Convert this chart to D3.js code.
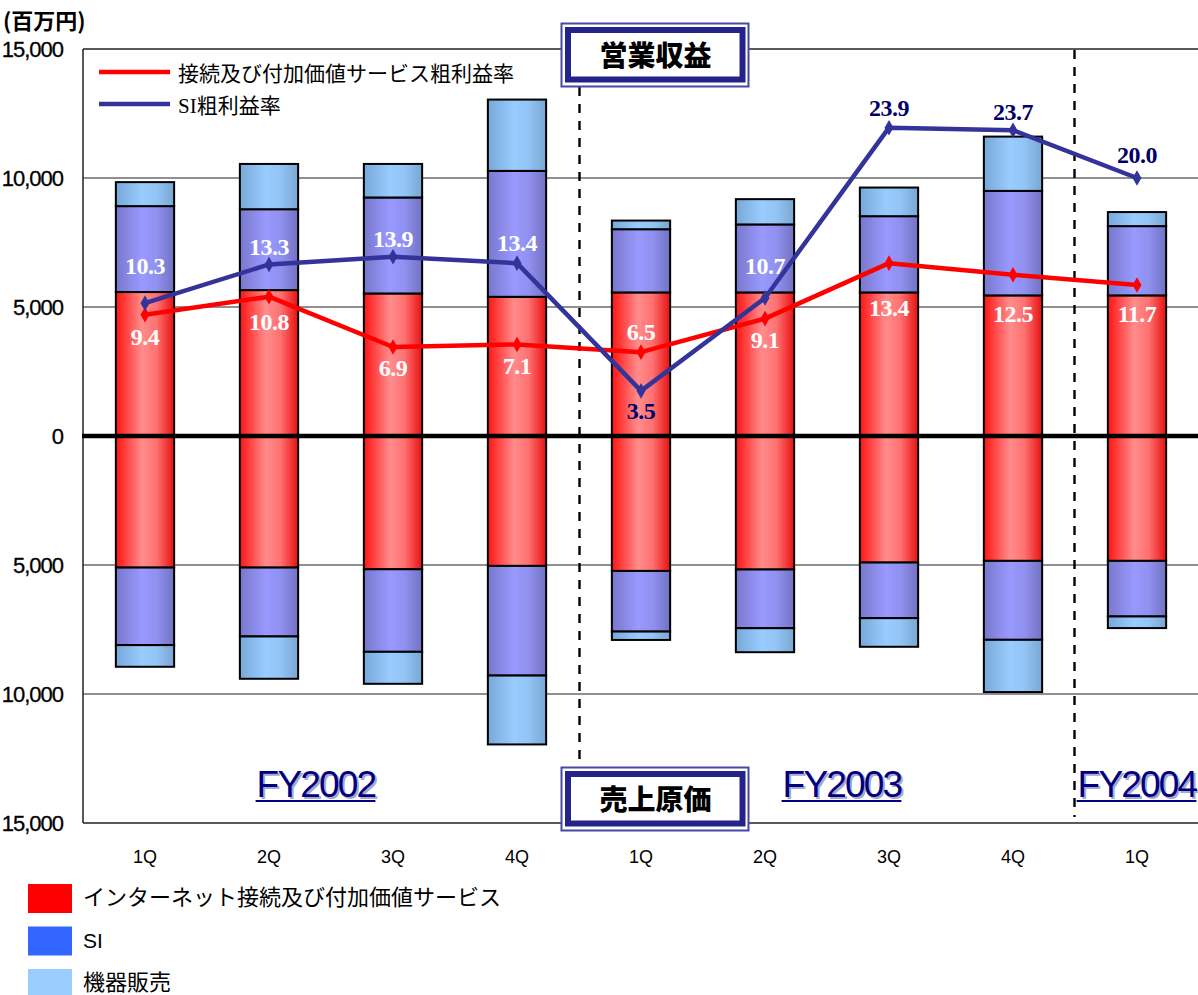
<!DOCTYPE html>
<html>
<head>
<meta charset="utf-8">
<script src="https://cdn.jsdelivr.net/npm/d3@7"></script>
<style>
  body { margin: 0; background: #fff; }
  svg { display: block; }
</style>
</head>
<body>
<svg id="chart" width="1198" height="995"></svg>
<script>
// ---- data (百万円, %) ----
const quarters = ["1Q", "2Q", "3Q", "4Q", "1Q", "2Q", "3Q", "4Q", "1Q"];
const fiscalYears = ["FY2002", "FY2003", "FY2004"];

// 営業収益 (revenue) by segment
const internetRevenue = [5580, 5655, 5525, 5395, 5565, 5565, 5565, 5450, 5450];
const siRevenue       = [3330, 3135, 3720, 4880, 2450, 2635, 2955, 4050, 2685];
const equipRevenue    = [930, 1755, 1300, 2765, 335, 980, 1110, 2105, 545];

// 売上原価 (cost of sales) by segment
const internetCost = [5100, 5100, 5165, 5035, 5230, 5175, 4905, 4840, 4840];
const siCost       = [3005, 2670, 3200, 4250, 2350, 2275, 2155, 3060, 2155];
const equipCost    = [840, 1640, 1240, 2670, 325, 930, 1110, 2025, 450];

// gross margin rates (%)
const connMarginRate = [9.4, 10.8, 6.9, 7.1, 6.5, 9.1, 13.4, 12.5, 11.7];
const siMarginRate   = [10.3, 13.3, 13.9, 13.4, 3.5, 10.7, 23.9, 23.7, 20.0];

const yTicks = [15000, 10000, 5000, 0, -5000, -10000, -15000];

// ---- layout ----
const W = 1198, H = 995;
const plot = { left: 83, right: 1199, top: 49, bottom: 823 };

const svg = d3.select("#chart");
const idx = quarters.map((_, i) => i);

const x = d3.scaleBand().domain(idx).range([plot.left, plot.right])
  .paddingInner(0.53).paddingOuter(0.265);
const cx = i => x(i) + x.bandwidth() / 2;
const y = d3.scaleLinear().domain([-15000, 15000]).range([plot.bottom, plot.top]);
const yRate = d3.scaleLinear().domain([-30, 30]).range([plot.bottom, plot.top]);

// ---- gradients for the bar shading ----
const defs = svg.append("defs");
const segStyles = {
  internet: ["#ff1414", "#ff8c8c", "#ff7070", "#e81010"],
  si:       ["#7878cc", "#9999ff", "#9090f0", "#7272c2"],
  equip:    ["#78a8d8", "#99ccff", "#92c4f4", "#7aa6d2"]
};
Object.entries(segStyles).forEach(([k, c]) => {
  const g = defs.append("linearGradient").attr("id", "grad-" + k)
    .attr("x1", "0%").attr("x2", "100%").attr("y1", "0%").attr("y2", "0%");
  g.append("stop").attr("offset", "0%").attr("stop-color", c[0]);
  g.append("stop").attr("offset", "45%").attr("stop-color", c[1]);
  g.append("stop").attr("offset", "70%").attr("stop-color", c[2]);
  g.append("stop").attr("offset", "100%").attr("stop-color", c[3]);
});

// ---- grid + frame ----
svg.append("g").selectAll("line").data([10000, 5000, -5000, -10000]).join("line")
  .attr("x1", plot.left).attr("x2", W)
  .attr("y1", d => y(d)).attr("y2", d => y(d))
  .attr("stroke", "#222").attr("stroke-width", 1.2);
svg.append("line").attr("x1", plot.left).attr("x2", W)
  .attr("y1", y(15000)).attr("y2", y(15000)).attr("stroke", "#222").attr("stroke-width", 1.5);
svg.append("line").attr("x1", plot.left).attr("x2", W)
  .attr("y1", y(-15000)).attr("y2", y(-15000)).attr("stroke", "#222").attr("stroke-width", 1.5);
svg.append("line").attr("x1", plot.left).attr("x2", plot.left)
  .attr("y1", y(15000)).attr("y2", y(-15000)).attr("stroke", "#222").attr("stroke-width", 1.5);

// y tick labels (absolute values)
svg.append("g").selectAll("text").data(yTicks).join("text")
  .attr("x", 63).attr("y", d => y(d) + 8)
  .attr("text-anchor", "end")
  .attr("font-family", "'Liberation Sans', Arial, sans-serif")
  .attr("font-size", 22).attr("letter-spacing", -1)
  .attr("stroke", "#000").attr("stroke-width", 0.3)
  .attr("fill", "#000")
  .text(d => d3.format(",")(Math.abs(d)));

svg.append("text").attr("x", 3).attr("y", 29)
  .attr("font-family", "'Noto Sans CJK JP', sans-serif")
  .attr("font-weight", "bold").attr("font-size", 22)
  .text("(百万円)");

// ---- period dividers ----
svg.append("line").attr("x1", 579.5).attr("x2", 579.5).attr("y1", 87).attr("y2", 767)
  .attr("stroke", "#000").attr("stroke-width", 2.4).attr("stroke-dasharray", "9,8");
svg.append("line").attr("x1", 1074.5).attr("x2", 1074.5).attr("y1", 50).attr("y2", 817)
  .attr("stroke", "#000").attr("stroke-width", 2.4).attr("stroke-dasharray", "9,8");

// ---- stacked bars ----
const segKeys = ["internet", "si", "equip"];
const revRows = idx.map(i => ({ i, internet: internetRevenue[i], si: siRevenue[i], equip: equipRevenue[i] }));
const costRows = idx.map(i => ({ i, internet: -internetCost[i], si: -siCost[i], equip: -equipCost[i] }));
const stack = d3.stack().keys(segKeys).offset(d3.stackOffsetDiverging);

[revRows, costRows].forEach(rows => {
  const series = stack(rows);
  svg.append("g").selectAll("g").data(series).join("g")
    .attr("fill", s => `url(#grad-${s.key})`)
    .selectAll("rect").data(s => s).join("rect")
    .attr("x", d => x(d.data.i))
    .attr("width", x.bandwidth())
    .attr("y", d => y(Math.max(d[0], d[1])))
    .attr("height", d => Math.abs(y(d[0]) - y(d[1])))
    .attr("stroke", "#000").attr("stroke-width", 2);
});

// zero baseline
svg.append("line").attr("x1", plot.left - 1).attr("x2", W)
  .attr("y1", y(0)).attr("y2", y(0)).attr("stroke", "#000").attr("stroke-width", 4.5);

// ---- margin-rate lines ----
const diamond = d3.symbol().type(d3.symbolDiamond).size(70);
const lineGen = d3.line().x((d, i) => cx(i)).y(d => yRate(d));

function drawRateLine(values, color) {
  svg.append("path").datum(values)
    .attr("d", lineGen).attr("fill", "none")
    .attr("stroke", color).attr("stroke-width", 4.5).attr("stroke-linejoin", "round");
  svg.append("g").selectAll("path").data(values).join("path")
    .attr("d", diamond)
    .attr("transform", (d, i) => `translate(${cx(i)},${yRate(d)})`)
    .attr("fill", color);
}
drawRateLine(connMarginRate, "#ff0000");
drawRateLine(siMarginRate, "#333399");

// value labels: vertical offset from the point and fill colour
const connLabelDy = [22, 25, 21, 22, -20, 21.5, 45, 39, 29];
const siLabelDy = [-37, -17, -18, -20, 20, -32, -20, -18, -23];
const siLabelFill = ["#fff", "#fff", "#fff", "#fff", "#000066", "#fff", "#000066", "#000066", "#000066"];

function drawRateLabels(values, dys, fills) {
  svg.append("g").selectAll("text").data(values).join("text")
    .attr("x", (d, i) => cx(i))
    .attr("y", (d, i) => yRate(d) + dys[i] + 8)
    .attr("text-anchor", "middle")
    .attr("font-family", "'Liberation Serif', 'Times New Roman', serif")
    .attr("font-weight", "bold").attr("font-size", 24)
    .attr("letter-spacing", -0.5)
    .attr("fill", (d, i) => fills[i])
    .text(d => d.toFixed(1));
}
drawRateLabels(connMarginRate, connLabelDy, idx.map(() => "#fff"));
drawRateLabels(siMarginRate, siLabelDy, siLabelFill);

// ---- line legend (inside plot) ----
const lineLegend = [
  { label: "接続及び付加価値サービス粗利益率", color: "#ff0000", y: 72 },
  { label: "SI粗利益率", color: "#333399", y: 104 }
];
lineLegend.forEach(d => {
  svg.append("line").attr("x1", 99).attr("x2", 170).attr("y1", d.y).attr("y2", d.y)
    .attr("stroke", d.color).attr("stroke-width", 4.5);
  const t = svg.append("text").attr("x", 178).attr("y", d.y + 9)
    .attr("font-family", "'Noto Sans CJK JP', sans-serif").attr("font-size", 21).attr("fill", "#000");
  if (d.label.startsWith("SI")) {
    t.append("tspan").attr("font-family", "'Liberation Serif', serif").text("SI");
    t.append("tspan").text(d.label.slice(2));
  } else {
    t.text(d.label);
  }
});

// ---- section boxes ----
function sectionBox(label, top) {
  const g = svg.append("g");
  g.append("rect").attr("x", 561.5).attr("y", top + 0.5).attr("width", 187).attr("height", 63)
    .attr("fill", "#fff").attr("stroke", "#4646a6").attr("stroke-width", 2);
  g.append("rect").attr("x", 568).attr("y", top + 7).attr("width", 174.5).attr("height", 49.5)
    .attr("fill", "#fff").attr("stroke", "#23238a").attr("stroke-width", 6);
  g.append("text").attr("x", 655.5).attr("y", top + 43)
    .attr("text-anchor", "middle")
    .attr("font-family", "'Noto Sans CJK JP', sans-serif")
    .attr("font-weight", 900).attr("font-size", 28).attr("fill", "#000")
    .text(label);
}
sectionBox("営業収益", 23);
sectionBox("売上原価", 767);

// ---- fiscal year labels ----
const fyCenters = [316, 842, cx(8)];
fiscalYears.forEach((fy, k) => {
  const g = svg.append("g");
  const base = 797;
  g.append("text").attr("x", fyCenters[k] + 2).attr("y", base + 2)
    .attr("text-anchor", "middle")
    .attr("font-family", "'Liberation Sans', Arial, sans-serif")
    .attr("font-size", 37).attr("letter-spacing", -1.8)
    .attr("fill", "#a8a8c8").text(fy);
  const t = g.append("text").attr("x", fyCenters[k]).attr("y", base)
    .attr("text-anchor", "middle")
    .attr("font-family", "'Liberation Sans', Arial, sans-serif")
    .attr("font-size", 37).attr("letter-spacing", -1.8)
    .attr("fill", "#000080").text(fy);
  const w = t.node().getComputedTextLength();
  g.append("line").attr("x1", fyCenters[k] - w / 2 - 1).attr("x2", fyCenters[k] + w / 2)
    .attr("y1", base + 4).attr("y2", base + 4)
    .attr("stroke", "#000080").attr("stroke-width", 2);
});

// ---- category labels ----
svg.append("g").selectAll("text").data(idx).join("text")
  .attr("x", i => cx(i)).attr("y", 863)
  .attr("text-anchor", "middle")
  .attr("font-family", "'Liberation Sans', Arial, sans-serif")
  .attr("font-size", 18).attr("fill", "#000")
  .text(i => quarters[i]);

// ---- segment legend ----
const segLegend = [
  { label: "インターネット接続及び付加価値サービス", color: "#ff0000" },
  { label: "SI", color: "#3366ff" },
  { label: "機器販売", color: "#99ccff" }
];
segLegend.forEach((d, k) => {
  const top = 884 + k * 42.5;
  svg.append("rect").attr("x", 28).attr("y", top).attr("width", 44).attr("height", 29).attr("fill", d.color);
  svg.append("text").attr("x", 83).attr("y", top + 21)
    .attr("font-family", d.label === "SI" ? "'Liberation Sans', Arial, sans-serif" : "'Noto Sans CJK JP', sans-serif")
    .attr("font-size", d.label === "SI" ? 21 : 22).attr("fill", "#000")
    .text(d.label);
});
</script>
</body>
</html>
